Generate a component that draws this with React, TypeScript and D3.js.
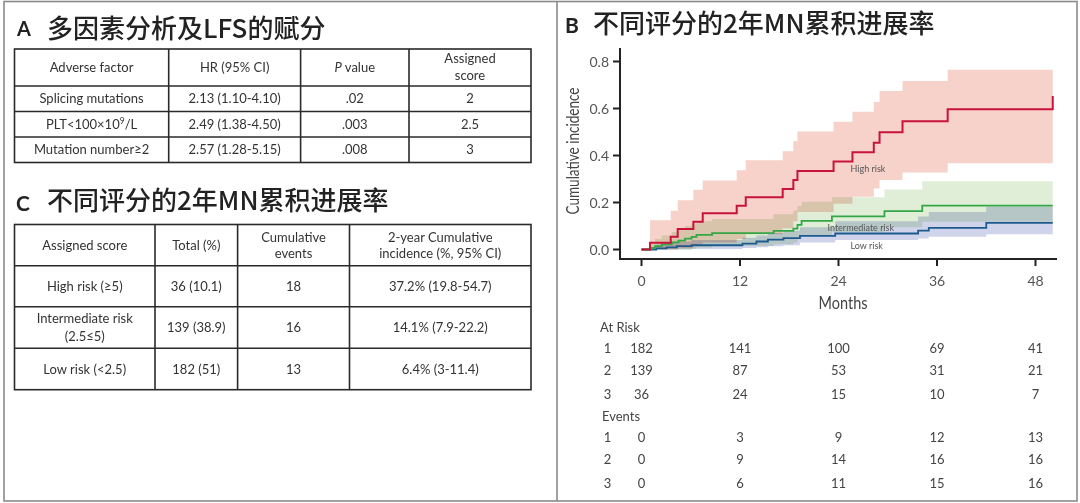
import React from 'react';
import * as d3 from 'd3';

// ---------- Data ----------
const monthTicks = [0, 12, 24, 36, 48];
const yTickValues = [0, 0.2, 0.4, 0.6, 0.8];

// High risk (red) cumulative incidence steps
const highT = [0, 1.04, 3.56, 4.41, 6.32, 7.46, 11.6, 12.7, 17.2, 18.5, 19.0, 23.4, 25.7, 28.3, 29.0, 31.8, 37.3, 50.1];
const highV = [0, 0.029, 0.054, 0.087, 0.118, 0.154, 0.186, 0.222, 0.257, 0.296, 0.334, 0.374, 0.414, 0.454, 0.499, 0.546, 0.597, 0.653];
const highBandT = [1.04, 3.56, 4.41, 6.32, 7.46, 11.6, 12.7, 17.2, 18.5, 19.0, 23.4, 25.7, 28.3, 29.0, 31.8, 37.3, 50.1];
const highLo = [0, 0, 0.005, 0.015, 0.03, 0.045, 0.065, 0.09, 0.12, 0.16, 0.195, 0.225, 0.26, 0.296, 0.328, 0.367, 0.367];
const highUp = [0.125, 0.165, 0.21, 0.254, 0.294, 0.337, 0.38, 0.418, 0.462, 0.502, 0.544, 0.586, 0.628, 0.674, 0.717, 0.765, 0.765];

// Intermediate risk (green)
const interT = [0, 1.2, 1.65, 2.46, 3.7, 4.5, 5.3, 6.1, 6.7, 8.6, 16.1, 18.5, 19.0, 19.5, 23.2, 29.6, 34.2, 50.1];
const interV = [0, 0.007, 0.014, 0.022, 0.03, 0.038, 0.046, 0.054, 0.062, 0.07, 0.079, 0.089, 0.105, 0.122, 0.141, 0.163, 0.187, 0.187];
const interBandT = [1.2, 1.65, 2.46, 3.7, 4.5, 5.3, 6.1, 6.7, 8.6, 16.1, 18.5, 19.0, 19.5, 23.2, 29.6, 34.2, 50.1];
const interLo = [0, 0, 0, 0, 0, 0, 0.003, 0.008, 0.015, 0.022, 0.03, 0.045, 0.058, 0.075, 0.095, 0.118, 0.118];
const interUp = [0.03, 0.045, 0.06, 0.075, 0.09, 0.1, 0.11, 0.12, 0.13, 0.15, 0.165, 0.185, 0.203, 0.222, 0.255, 0.29, 0.29];

// Low risk (blue)
const lowT = [0, 1.8, 3.05, 4.3, 6.1, 12.3, 14.0, 15.4, 17.3, 19.3, 23.6, 33.7, 35.0, 42.0, 50.1];
const lowV = [0, 0.005, 0.009, 0.014, 0.018, 0.025, 0.034, 0.042, 0.048, 0.058, 0.068, 0.08, 0.092, 0.113, 0.113];
const lowBandT = [1.8, 3.05, 4.3, 6.1, 12.3, 14.0, 15.4, 17.3, 19.3, 23.6, 33.7, 35.0, 42.0, 50.1];
const lowLo = [0, 0, 0, 0.002, 0.006, 0.01, 0.014, 0.018, 0.03, 0.04, 0.047, 0.054, 0.065, 0.065];
const lowUp = [0.02, 0.028, 0.034, 0.04, 0.05, 0.06, 0.07, 0.08, 0.095, 0.12, 0.14, 0.16, 0.182, 0.182];

// Number at risk / events
const groupIds = ['1', '2', '3'];
const atRisk = [
  [182, 141, 100, 69, 41],
  [139, 87, 53, 31, 21],
  [36, 24, 15, 10, 7],
];
const events = [
  [0, 3, 9, 12, 13],
  [0, 9, 14, 16, 16],
  [0, 6, 11, 15, 16],
];

// Table A
const tableAHeader = ['Adverse factor', 'HR (95% CI)', 'P value', 'Assigned score'];
const adverseFactors = ['Splicing mutations', 'PLT<100×10^9/L', 'Mutation number≥2'];
const hrValues = ['2.13 (1.10-4.10)', '2.49 (1.38-4.50)', '2.57 (1.28-5.15)'];
const pValues = ['.02', '.003', '.008'];
const assignedScores = ['2', '2.5', '3'];

// Table C
const tableCHeader = ['Assigned score', 'Total (%)', 'Cumulative events', '2-year Cumulative incidence (%, 95% CI)'];
const riskGroups = ['High risk (≥5)', 'Intermediate risk (2.5≤5)', 'Low risk (<2.5)'];
const totals = ['36 (10.1)', '139 (38.9)', '182 (51)'];
const cumEvents = ['18', '16', '13'];
const incidences = ['37.2% (19.8-54.7)', '14.1% (7.9-22.2)', '6.4% (3-11.4)'];

// ---------- Layout ----------
const W = 1080;
const H = 503;
const sansFont = 'Lato, "Open Sans", sans-serif';
const cjkFont = '"Noto Sans CJK SC", sans-serif';
const textColor = '#333';

const x = d3.scaleLinear().domain([0, 48]).range([641.5, 1035.5]);
const y = d3.scaleLinear().domain([0, 0.8]).range([249.5, 61.5]);

const stepLine = d3
  .line<[number, number]>()
  .x((d) => x(d[0]))
  .y((d) => y(d[1]))
  .curve(d3.curveStepAfter);

const stepArea = d3
  .area<[number, number, number]>()
  .x((d) => x(d[0]))
  .y0((d) => y(d[1]))
  .y1((d) => y(d[2]))
  .curve(d3.curveStepAfter);

const zip2 = (a: number[], b: number[]) => a.map((v, i) => [v, b[i]] as [number, number]);
const zip3 = (a: number[], b: number[], c: number[]) =>
  a.map((v, i) => [v, b[i], c[i]] as [number, number, number]);

function CellText({ cx, cy, text, size = 13 }: { cx: number; cy: number; text: string; size?: number }) {
  return (
    <text x={cx} y={cy + size * 0.35} textAnchor="middle" fontSize={size} fill={textColor} fontFamily={sansFont}>
      {text}
    </text>
  );
}

function Grid({ cols, rows }: { cols: number[]; rows: number[] }) {
  return (
    <g stroke="#2a2a2a" strokeWidth={1.6} fill="none">
      <rect x={cols[0]} y={rows[0]} width={cols[cols.length - 1] - cols[0]} height={rows[rows.length - 1] - rows[0]} />
      {cols.slice(1, -1).map((c, i) => (
        <line key={'c' + i} x1={c} x2={c} y1={rows[0]} y2={rows[rows.length - 1]} />
      ))}
      {rows.slice(1, -1).map((r, i) => (
        <line key={'r' + i} x1={cols[0]} x2={cols[cols.length - 1]} y1={r} y2={r} />
      ))}
    </g>
  );
}

export default function App() {
  const aCols = [14.5, 168.7, 300.6, 409, 531];
  const aRows = [49, 86, 111.5, 137, 162.5];
  const cCols = [14.5, 155, 237.6, 349.5, 531];
  const cRows = [224.5, 265.7, 306.8, 348.2, 389.7];
  const mid = (arr: number[], i: number) => (arr[i] + arr[i + 1]) / 2;

  const redColor = '#c8143a';
  const greenColor = '#33a646';
  const blueColor = '#1d5a8e';

  const atRiskRowsY = [348.8, 370.8, 394.4];
  const eventRowsY = [437.7, 459.5, 483.9];

  return (
    <svg width={W} height={H} style={{ position: 'absolute', left: 0, top: 0, background: '#fff' }}>
      <rect x={0} y={0} width={W} height={H} fill="#fff" />
      {/* frame */}
      <g stroke="#8a8a8a" strokeWidth={1.6} fill="none">
        <rect x={4} y={1.5} width={1073} height={499.5} />
        <line x1={557} x2={557} y1={1.5} y2={501} />
      </g>

      {/* ---------- Panel A ---------- */}
      <text x={17} y={36} fontSize={20} fontWeight={700} fill="#222" fontFamily={sansFont}>A</text>
      <text x={47} y={38} fontSize={26} fill="#222" fontFamily={cjkFont} fontWeight={500}>多因素分析及LFS的赋分</text>
      <Grid cols={aCols} rows={aRows} />
      <CellText cx={mid(aCols, 0)} cy={mid(aRows, 0)} text={tableAHeader[0]} />
      <CellText cx={mid(aCols, 1)} cy={mid(aRows, 0)} text={tableAHeader[1]} />
      <text x={mid(aCols, 2)} y={mid(aRows, 0) + 4.5} textAnchor="middle" fontSize={13} fill={textColor} fontFamily={sansFont}>
        <tspan fontStyle="italic">{tableAHeader[2].split(' ')[0]}</tspan>
        <tspan>{' ' + tableAHeader[2].split(' ').slice(1).join(' ')}</tspan>
      </text>
      <CellText cx={mid(aCols, 3)} cy={58.5} text={tableAHeader[3].split(' ')[0]} />
      <CellText cx={mid(aCols, 3)} cy={75.8} text={tableAHeader[3].split(' ')[1]} />
      {adverseFactors.map((f, i) => {
        const cy = mid(aRows, i + 1);
        const parts = f.split('^');
        return (
          <g key={'a' + i}>
            {parts.length > 1 ? (
              <text x={mid(aCols, 0)} y={cy + 4.5} textAnchor="middle" fontSize={13} fill={textColor} fontFamily={sansFont}>
                <tspan>{parts[0]}</tspan>
                <tspan dy={-5} fontSize={8.5}>{parts[1].charAt(0)}</tspan>
                <tspan dy={5}>{parts[1].slice(1)}</tspan>
              </text>
            ) : (
              <CellText cx={mid(aCols, 0)} cy={cy} text={f} />
            )}
            <CellText cx={mid(aCols, 1)} cy={cy} text={hrValues[i]} />
            <CellText cx={mid(aCols, 2)} cy={cy} text={pValues[i]} />
            <CellText cx={mid(aCols, 3)} cy={cy} text={assignedScores[i]} />
          </g>
        );
      })}

      {/* ---------- Panel C ---------- */}
      <text x={16} y={211} fontSize={21} fontWeight={700} fill="#222" fontFamily={sansFont}>C</text>
      <text x={47} y={210} fontSize={26} fill="#222" fontFamily={cjkFont} fontWeight={500}>不同评分的2年MN累积进展率</text>
      <Grid cols={cCols} rows={cRows} />
      <CellText cx={mid(cCols, 0)} cy={mid(cRows, 0)} text={tableCHeader[0]} />
      <CellText cx={mid(cCols, 1)} cy={mid(cRows, 0)} text={tableCHeader[1]} />
      <CellText cx={mid(cCols, 2)} cy={237} text="Cumulative" />
      <CellText cx={mid(cCols, 2)} cy={253.3} text="events" />
      <CellText cx={mid(cCols, 3)} cy={237} text="2-year Cumulative" />
      <CellText cx={mid(cCols, 3)} cy={253.3} text="incidence (%, 95% CI)" />
      {riskGroups.map((g, i) => {
        const cy = mid(cRows, i + 1);
        const two = g.startsWith('Intermediate');
        return (
          <g key={'c' + i}>
            {two ? (
              <>
                <CellText cx={mid(cCols, 0)} cy={cy - 9} text="Intermediate risk" />
                <CellText cx={mid(cCols, 0)} cy={cy + 9} text="(2.5≤5)" />
              </>
            ) : (
              <CellText cx={mid(cCols, 0)} cy={cy} text={g} />
            )}
            <CellText cx={mid(cCols, 1)} cy={cy} text={totals[i]} />
            <CellText cx={mid(cCols, 2)} cy={cy} text={cumEvents[i]} />
            <CellText cx={mid(cCols, 3)} cy={cy} text={incidences[i]} />
          </g>
        );
      })}

      {/* ---------- Panel B ---------- */}
      <text x={565} y={32.5} fontSize={21} fontWeight={700} fill="#222" fontFamily={sansFont}>B</text>
      <text x={593} y={33} fontSize={26} fill="#222" fontFamily={cjkFont} fontWeight={500}>不同评分的2年MN累积进展率</text>

      {/* CI bands */}
      <g>
        <path d={stepArea(zip3(highBandT, highLo, highUp)) || ''} fill="#f6d2ca" style={{ mixBlendMode: 'multiply' }} />
        <path d={stepArea(zip3(interBandT, interLo, interUp)) || ''} fill="#e0eed8" style={{ mixBlendMode: 'multiply' }} />
        <path d={stepArea(zip3(lowBandT, lowLo, lowUp)) || ''} fill="#d0d4ea" style={{ mixBlendMode: 'multiply' }} />
      </g>

      {/* curves */}
      <path d={stepLine(zip2(lowT, lowV)) || ''} fill="none" stroke={blueColor} strokeWidth={1.8} />
      <path d={stepLine(zip2(interT, interV)) || ''} fill="none" stroke={greenColor} strokeWidth={1.8} />
      <path d={stepLine(zip2(highT, highV)) || ''} fill="none" stroke={redColor} strokeWidth={2} />

      {/* curve labels */}
      <text x={850.5} y={171.5} fontSize={9} fill="#555" fontFamily={sansFont}>High risk</text>
      <text x={827.5} y={230.5} fontSize={9} fill="#555" fontFamily={sansFont}>Intermediate risk</text>
      <text x={850.5} y={248.5} fontSize={9} fill="#555" fontFamily={sansFont}>Low risk</text>

      {/* axes */}
      <g stroke="#222" strokeWidth={2} fill="none">
        <line x1={620} x2={620} y1={48} y2={260} />
        <line x1={619} x2={1057} y1={259} y2={259} />
        {yTickValues.map((v) => (
          <line key={'yt' + v} x1={613} x2={620} y1={y(v)} y2={y(v)} />
        ))}
        {monthTicks.map((m) => (
          <line key={'xt' + m} x1={x(m)} x2={x(m)} y1={259} y2={266} />
        ))}
      </g>
      {yTickValues.map((v) => (
        <text key={'yl' + v} x={609} y={y(v) + 5} textAnchor="end" fontSize={14} fill="#555" fontFamily={sansFont}>
          {v.toFixed(1)}
        </text>
      ))}
      {monthTicks.map((m) => (
        <text key={'xl' + m} x={x(m)} y={286} textAnchor="middle" fontSize={14} fill="#555" fontFamily={sansFont}>
          {m}
        </text>
      ))}
      <text x={843} y={309} textAnchor="middle" fontSize={18} fill="#444" fontFamily={sansFont} textLength={49} lengthAdjust="spacingAndGlyphs">
        Months
      </text>
      <text
        transform="translate(579,151) rotate(-90)"
        textAnchor="middle"
        fontSize={17}
        fill="#444"
        fontFamily={sansFont}
        textLength={127}
        lengthAdjust="spacingAndGlyphs"
      >
        Cumulative incidence
      </text>

      {/* at risk table */}
      <text x={600} y={331.5} fontSize={13} fill="#444" fontFamily={sansFont}>At Risk</text>
      {groupIds.map((g, i) => (
        <g key={'ar' + g}>
          <text x={607.5} y={atRiskRowsY[i] + 4.5} textAnchor="middle" fontSize={13} fill="#444" fontFamily={sansFont}>{g}</text>
          {atRisk[i].map((n, j) => (
            <text key={j} x={x(monthTicks[j])} y={atRiskRowsY[i] + 4.5} textAnchor="middle" fontSize={13} fill="#444" fontFamily={sansFont}>
              {n}
            </text>
          ))}
        </g>
      ))}
      <text x={602} y={421} fontSize={13} fill="#444" fontFamily={sansFont}>Events</text>
      {groupIds.map((g, i) => (
        <g key={'ev' + g}>
          <text x={607.5} y={eventRowsY[i] + 4.5} textAnchor="middle" fontSize={13} fill="#444" fontFamily={sansFont}>{g}</text>
          {events[i].map((n, j) => (
            <text key={j} x={x(monthTicks[j])} y={eventRowsY[i] + 4.5} textAnchor="middle" fontSize={13} fill="#444" fontFamily={sansFont}>
              {n}
            </text>
          ))}
        </g>
      ))}
    </svg>
  );
}
